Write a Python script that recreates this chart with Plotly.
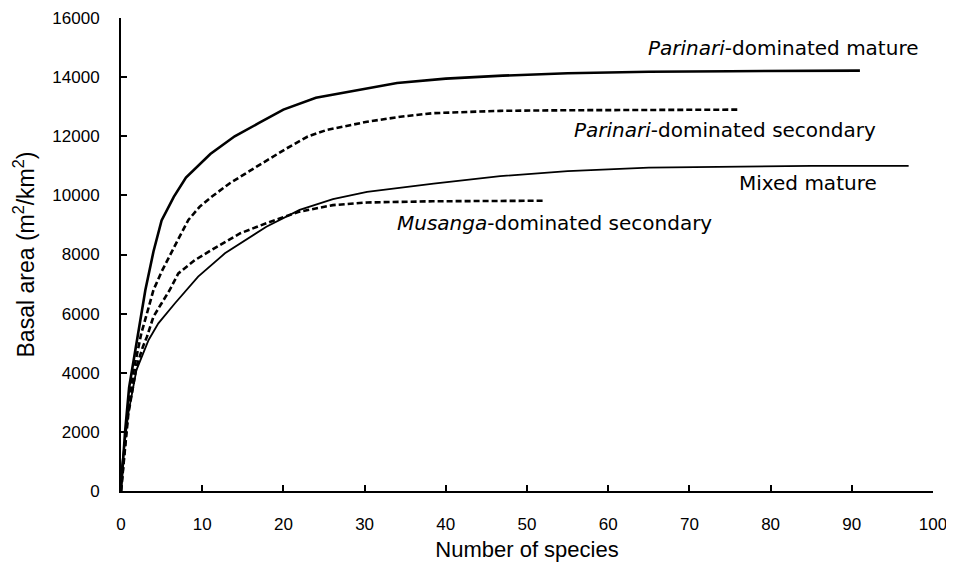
import plotly.graph_objects as go

# Parinari-dominated mature (thick solid)
pm_x = [0, 0.5, 1, 2, 3, 4, 5, 6.5, 8, 11, 14, 17, 20, 24, 29, 34, 40, 47, 55, 65, 75, 85, 91]
pm_y = [0, 2000, 3500, 5100, 6800, 8100, 9150, 9950, 10600, 11400, 12000, 12450, 12900, 13300,
        13550, 13800, 13950, 14050, 14130, 14180, 14200, 14210, 14220]

# Parinari-dominated secondary (dashed)
ps_x = [0, 0.8, 1.5, 2.5, 3.2, 4, 5, 6, 7, 8.3, 9.7, 11.2, 13.4, 16.7, 20.4, 23, 25.3, 30.3,
        34.4, 38.4, 46.7, 55, 65, 76]
ps_y = [0, 2500, 4000, 5330, 6010, 6800, 7420, 7980, 8490, 9170, 9620, 9960, 10410, 10970,
        11590, 11990, 12210, 12490, 12660, 12780, 12860, 12880, 12890, 12900]

# Mixed mature (thin solid)
mm_x = [0, 0.1, 0.9, 1.9, 3.4, 4.6, 6.65, 9.5, 12.8, 14.7, 17.9, 22, 26.1, 30.3, 38.5, 46.7,
        55, 65, 75, 85, 97]
mm_y = [0, 820, 2630, 4090, 5110, 5670, 6350, 7250, 8040, 8380, 8940, 9510, 9870, 10120,
        10400, 10650, 10820, 10940, 10980, 11000, 11000]

# Musanga-dominated secondary (dashed)
ms_x = [0, 0.9, 1.9, 2.7, 3.2, 4, 5, 6, 7.06, 9.1, 11.8, 14.7, 17.9, 22, 26.1, 30.3, 38.4,
        46.7, 52]
ms_y = [0, 2600, 4200, 4880, 5220, 5900, 6350, 6800, 7360, 7810, 8260, 8720, 9060, 9450,
        9670, 9760, 9800, 9815, 9820]

x_ticks = [0, 10, 20, 30, 40, 50, 60, 70, 80, 90, 100]
y_ticks = [0, 2000, 4000, 6000, 8000, 10000, 12000, 14000, 16000]

labels = [
    ("<i>Parinari</i>-dominated mature", 98.4, 14990, "right"),
    ("<i>Parinari</i>-dominated secondary", 93.2, 12210, "right"),
    ("Mixed mature", 93.3, 10420, "right"),
    ("<i>Musanga</i>-dominated secondary", 33.7, 9070, "left"),
]

fig = go.Figure()
fig.add_trace(go.Scatter(x=pm_x, y=pm_y, mode="lines",
                         line=dict(color="black", width=2.6)))
fig.add_trace(go.Scatter(x=ps_x, y=ps_y, mode="lines",
                         line=dict(color="black", width=2.6, dash="6px,3px")))
fig.add_trace(go.Scatter(x=mm_x, y=mm_y, mode="lines",
                         line=dict(color="black", width=1.8)))
fig.add_trace(go.Scatter(x=ms_x, y=ms_y, mode="lines",
                         line=dict(color="black", width=2.6, dash="6px,3px")))

for text, lx, ly, anchor in labels:
    fig.add_annotation(x=lx, y=ly, text=text, showarrow=False, xanchor=anchor,
                       yanchor="middle",
                       font=dict(family="DejaVu Sans", size=20, color="black"))

# y-axis title as rotated annotation
fig.add_annotation(x=-0.1195, y=0.5, xref="paper", yref="paper",
                   text="Basal area (m<sup>2</sup>/km<sup>2</sup>)", textangle=-90,
                   showarrow=False, xanchor="center", yanchor="middle",
                   font=dict(family="Liberation Sans, Arial", size=23, color="black"))

fig.update_layout(
    width=954, height=570,
    margin=dict(l=113, r=29, t=10, b=87),
    paper_bgcolor="white", plot_bgcolor="white",
    showlegend=False,
    font=dict(family="Liberation Sans, Arial", color="black"),
)
fig.update_xaxes(
    range=[0, 100], tickvals=x_ticks, ticktext=[str(v) for v in x_ticks],
    showgrid=False, zeroline=False, showline=True, linecolor="black", linewidth=2,
    ticks="inside", ticklen=6, tickwidth=2, tickcolor="black",
    tickfont=dict(size=17), ticklabelstandoff=17, automargin=False,
    title=dict(text="Number of species", font=dict(size=22), standoff=8),
)
fig.update_yaxes(
    range=[0, 16000], tickvals=y_ticks, ticktext=[str(v) for v in y_ticks],
    showgrid=False, zeroline=False, showline=True, linecolor="black", linewidth=2,
    ticks="inside", ticklen=6, tickwidth=2, tickcolor="black",
    tickfont=dict(size=17), ticklabelstandoff=16, automargin=False,
)

fig.write_html("out.html")
